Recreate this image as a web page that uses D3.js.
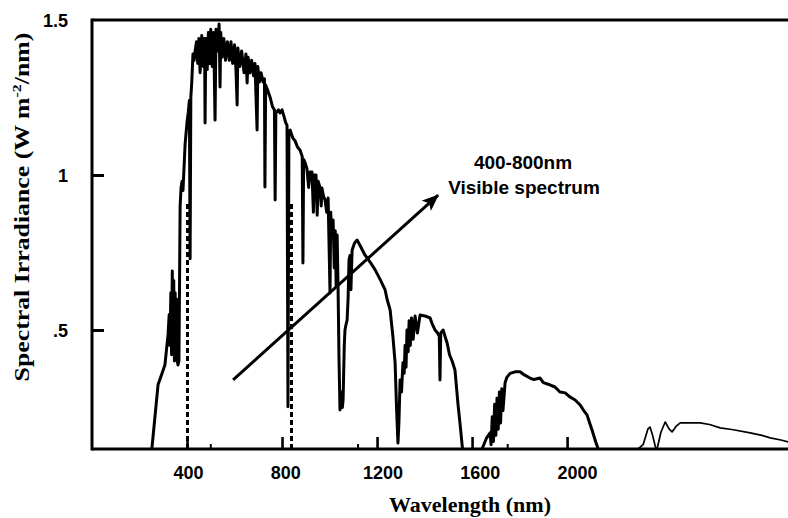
<!DOCTYPE html>
<html>
<head>
<meta charset="utf-8">
<script src="https://cdn.jsdelivr.net/npm/d3@7"></script>
<style>
  html, body { margin: 0; padding: 0; background: #fff; }
  svg { display: block; }
</style>
</head>
<body>
<svg id="chart" width="788" height="518"></svg>
<script>
// ---------------- DATA ----------------
// wavelength (nm), spectral irradiance (W m-2/nm)
const spectrumMain = [
  [248,0.10],[252,0.116],[278,0.323],[295,0.36],[307,0.387],[320,0.484],
  [325,0.55],[328,0.45],[332,0.62],[335,0.42],[338,0.69],[341,0.45],[344,0.66],[347,0.40],
  [350,0.62],[353,0.42],[356,0.60],[359,0.40],[362,0.387],[366,0.40],
  [371,0.90],[375,0.96],[379,0.98],[383,0.95],[392,1.10],[400,1.17],[405,1.20],[410,1.24],
  [413,0.73],[416,1.25],[420,1.30],[425,1.39],[430,1.37],[434,1.40],
  [440,1.43],[445,1.36],[450,1.44],[455,1.33],[462,1.45],[468,1.35],[474,1.44],[476,1.168],
  [479,1.44],[485,1.34],[490,1.46],[495,1.36],[500,1.47],[506,1.35],[512,1.46],[518,1.177],
  [522,1.47],[528,1.40],[535,1.487],[539,1.284],[542,1.46],[548,1.38],[555,1.44],[562,1.37],
  [570,1.43],[578,1.37],[585,1.43],[592,1.36],[600,1.42],[606,1.34],[611,1.226],[614,1.41],
  [622,1.35],[630,1.40],[640,1.33],[648,1.39],[653,1.297],[657,1.38],[665,1.33],[672,1.37],
  [680,1.32],[686,1.36],[695,1.145],[698,1.35],[705,1.30],[712,1.33],[720,1.30],[726,1.31],
  [728,0.961],[731,1.29],[741,1.27],[750,1.25],[760,1.22],[768,1.21],[771,0.919],[774,1.20],
  [785,1.21],[792,1.20],[800,1.21],[808,1.19],[815,1.17],[821,1.16],[825,0.252],[829,1.14],
  [834,1.145],[845,1.12],[855,1.11],[865,1.09],[876,1.08],[885,1.06],[888,0.716],[891,1.05],
  [897,1.04],[905,1.02],[912,0.96],[918,1.01],[926,1.01],[932,0.88],[936,1.0],[943,1.0],
  [948,0.87],[952,0.98],[960,0.96],[965,0.90],[968,0.958],[975,0.93],[981,0.92],[988,0.88],
  [994,0.926],[1002,0.619],[1005,0.88],[1010,0.80],[1015,0.855],[1020,0.70],[1024,0.82],
  [1028,0.64],[1032,0.806],[1036,0.629],[1040,0.40],[1044,0.242],[1050,0.30],[1054,0.25],
  [1057,0.274],[1062,0.45],[1065,0.50],[1070,0.52],[1074,0.532],[1078,0.60],[1082,0.726],
  [1086,0.74],[1090,0.63],[1095,0.758],[1105,0.78],[1116,0.790],[1130,0.77],[1149,0.742],
  [1170,0.72],[1192,0.694],[1215,0.66],[1234,0.629],[1242,0.60],[1255,0.565],[1267,0.477],
  [1276,0.394],[1282,0.25],[1288,0.135],[1292,0.20],[1297,0.339],[1303,0.30],[1309,0.394],
  [1314,0.36],[1318,0.45],[1322,0.38],[1326,0.50],[1331,0.43],[1335,0.53],[1340,0.45],
  [1345,0.539],[1352,0.47],[1360,0.545],[1370,0.49],[1381,0.548],[1402,0.545],[1423,0.539],
  [1432,0.52],[1444,0.50],[1455,0.49],[1462,0.48],[1465,0.339],[1468,0.49],[1478,0.50],
  [1490,0.47],[1495,0.458],[1505,0.42],[1516,0.40],[1528,0.371],[1541,0.258],[1549,0.20],
  [1558,0.13],[1562,0.10],[1634,0.10],[1642,0.116],[1660,0.15],[1676,0.168],[1680,0.13],
  [1685,0.22],[1690,0.14],[1695,0.26],[1700,0.16],[1705,0.28],[1710,0.18],[1715,0.30],
  [1720,0.20],[1725,0.31],[1730,0.24],[1739,0.33],[1747,0.348],[1760,0.36],[1781,0.365],
  [1802,0.365],[1820,0.355],[1844,0.345],[1860,0.34],[1886,0.345],[1900,0.33],[1920,0.325],
  [1949,0.316],[1970,0.30],[1992,0.297],[2010,0.285],[2034,0.274],[2055,0.258],[2070,0.24],
  [2084,0.226],[2095,0.20],[2105,0.177],[2120,0.14],[2131,0.116],[2140,0.10]
];
const spectrumTail = [
  [2290,0.10],[2299,0.116],[2320,0.13],[2340,0.18],[2349,0.187],[2360,0.16],[2374,0.116],
  [2380,0.12],[2395,0.17],[2413,0.203],[2430,0.18],[2442,0.171],[2460,0.19],[2476,0.2],
  [2520,0.2],[2560,0.2],[2600,0.195],[2644,0.184],[2700,0.178],[2771,0.168],[2820,0.16],
  [2855,0.152],[2900,0.145],[2931,0.139]
];
const xTicks = [400, 800, 1200, 1600, 2000];
const xMinorTicks = [500, 1120, 1750];
const yTicks = [0.5, 1, 1.5];
const yTickLabels = [".5", "1", "1.5"];
const visibleBounds = [400, 838];
const visibleTop = 0.91;
const arrowFrom = [594, 0.339];
const arrowTo = [1457, 0.935];
const annotationLines = ["400-800nm", "Visible spectrum"];
const xTitle = "Wavelength (nm)";
const yTitleParts = ["Spectral Irradiance  (W m", "-2", "/nm)"];

// ---------------- CHART ----------------
(function () {
const svg = d3.select("#chart");
const pLeft = 92, pRight = 788, pTop = 20, pBottom = 449;
const x = d3.scaleLinear().domain([0, 2930]).range([pLeft, pRight]);
const y = d3.scaleLinear().domain([0.116, 1.5]).range([pBottom, pTop]);
const xLabel = d3.scaleLinear().domain([400, 2000]).range([188, 577]);

svg.append("rect").attr("width", 788).attr("height", 518).attr("fill", "#fff");

const defs = svg.append("defs");
defs.append("clipPath").attr("id", "plotClip")
  .append("rect").attr("x", pLeft).attr("y", pTop).attr("width", pRight - pLeft).attr("height", pBottom - pTop);

const sans = "'Liberation Sans', Arial, sans-serif";
const serif = "'Liberation Serif', 'Times New Roman', serif";

// spectrum
const line = d3.line().x(d => x(d[0])).y(d => y(d[1]));
const plot = svg.append("g").attr("clip-path", "url(#plotClip)");
plot.append("path").datum(spectrumMain).attr("d", line)
  .attr("fill", "none").attr("stroke", "#000").attr("stroke-width", 3)
  .attr("stroke-linejoin", "round");
plot.append("path").datum(spectrumTail).attr("d", line)
  .attr("fill", "none").attr("stroke", "#000").attr("stroke-width", 1.7)
  .attr("stroke-linejoin", "round");

// dashed visible bounds
svg.selectAll("line.vis").data(visibleBounds).join("line").attr("class", "vis")
  .attr("x1", d => Math.round(x(d)) + 0.5).attr("x2", d => Math.round(x(d)) + 0.5)
  .attr("y1", y.range()[0]).attr("y2", y(visibleTop))
  .attr("stroke", "#000").attr("stroke-width", 3).attr("stroke-dasharray", "5,3");

// axes
const yAxis = d3.axisLeft(y).tickValues(yTicks).tickSize(-12).tickPadding(24)
  .tickFormat((d, i) => yTickLabels[i]);
const gy = svg.append("g").attr("transform", `translate(${pLeft},0)`).call(yAxis);
gy.select(".domain").remove();
gy.selectAll(".tick line").attr("stroke", "#000").attr("stroke-width", 3)
  .filter(d => d === 1.5).remove();
gy.selectAll(".tick text").attr("font-family", sans).attr("font-weight", "bold")
  .attr("font-size", 18).attr("fill", "#000").attr("dy", "0.36em");

const xAxis = d3.axisBottom(x).tickValues(xTicks).tickSize(-12).tickPadding(17)
  .tickFormat(d3.format("d"));
const gx = svg.append("g").attr("transform", `translate(0,${pBottom})`).call(xAxis);
gx.select(".domain").remove();
gx.selectAll(".tick line").attr("stroke", "#000").attr("stroke-width", 2.6);
gx.selectAll(".tick text").attr("font-family", sans).attr("font-weight", "bold")
  .attr("font-size", 18).attr("fill", "#000")
  .attr("x", d => xLabel(d) - x(d));

svg.append("g").selectAll("line").data(xMinorTicks).join("line")
  .attr("x1", d => x(d)).attr("x2", d => x(d)).attr("y1", pBottom).attr("y2", pBottom - 5)
  .attr("stroke", "#000").attr("stroke-width", 2);

// frame lines
svg.append("line").attr("x1", pLeft).attr("x2", pLeft).attr("y1", pTop - 1.5).attr("y2", pBottom + 1.5)
  .attr("stroke", "#000").attr("stroke-width", 3);
svg.append("line").attr("x1", pLeft).attr("x2", pRight).attr("y1", pTop).attr("y2", pTop)
  .attr("stroke", "#000").attr("stroke-width", 3);
svg.append("line").attr("x1", pLeft).attr("x2", pRight).attr("y1", pBottom).attr("y2", pBottom)
  .attr("stroke", "#000").attr("stroke-width", 3);

// arrow
defs.append("marker").attr("id", "arrowHead")
  .attr("markerUnits", "userSpaceOnUse").attr("markerWidth", 18).attr("markerHeight", 14)
  .attr("refX", 16).attr("refY", 7).attr("orient", "auto")
  .append("path").attr("d", "M0,0 L17,7 L0,14 L4,7 Z").attr("fill", "#000");
svg.append("line")
  .attr("x1", x(arrowFrom[0])).attr("y1", y(arrowFrom[1]))
  .attr("x2", x(arrowTo[0])).attr("y2", y(arrowTo[1]))
  .attr("stroke", "#000").attr("stroke-width", 3).attr("marker-end", "url(#arrowHead)");

// annotation
svg.append("g").selectAll("text").data(annotationLines).join("text")
  .attr("x", (d, i) => 523 + i)
  .attr("y", (d, i) => 169 + i * 25)
  .attr("text-anchor", "middle")
  .attr("font-family", sans).attr("font-weight", "bold").attr("font-size", 19)
  .text(d => d);

// x title
svg.append("text").attr("x", 470).attr("y", 512).attr("text-anchor", "middle")
  .attr("font-family", serif).attr("font-weight", "bold").attr("font-size", 22)
  .text(xTitle);

// y title
const yt = svg.append("g").attr("transform", "translate(29,207) rotate(-90)");
const ytText = yt.append("text").attr("text-anchor", "middle")
  .attr("font-family", serif).attr("font-weight", "bold").attr("font-size", 21);
ytText.append("tspan").text(yTitleParts[0]);
ytText.append("tspan").attr("font-size", 13).attr("dy", -8).text(yTitleParts[1]);
ytText.append("tspan").attr("dy", 8).text(yTitleParts[2]);
const natural = ytText.node().getComputedTextLength();
const target = 349;
if (natural > 0) ytText.attr("transform", `scale(${target / natural},1)`);
})();
</script>
</body>
</html>
